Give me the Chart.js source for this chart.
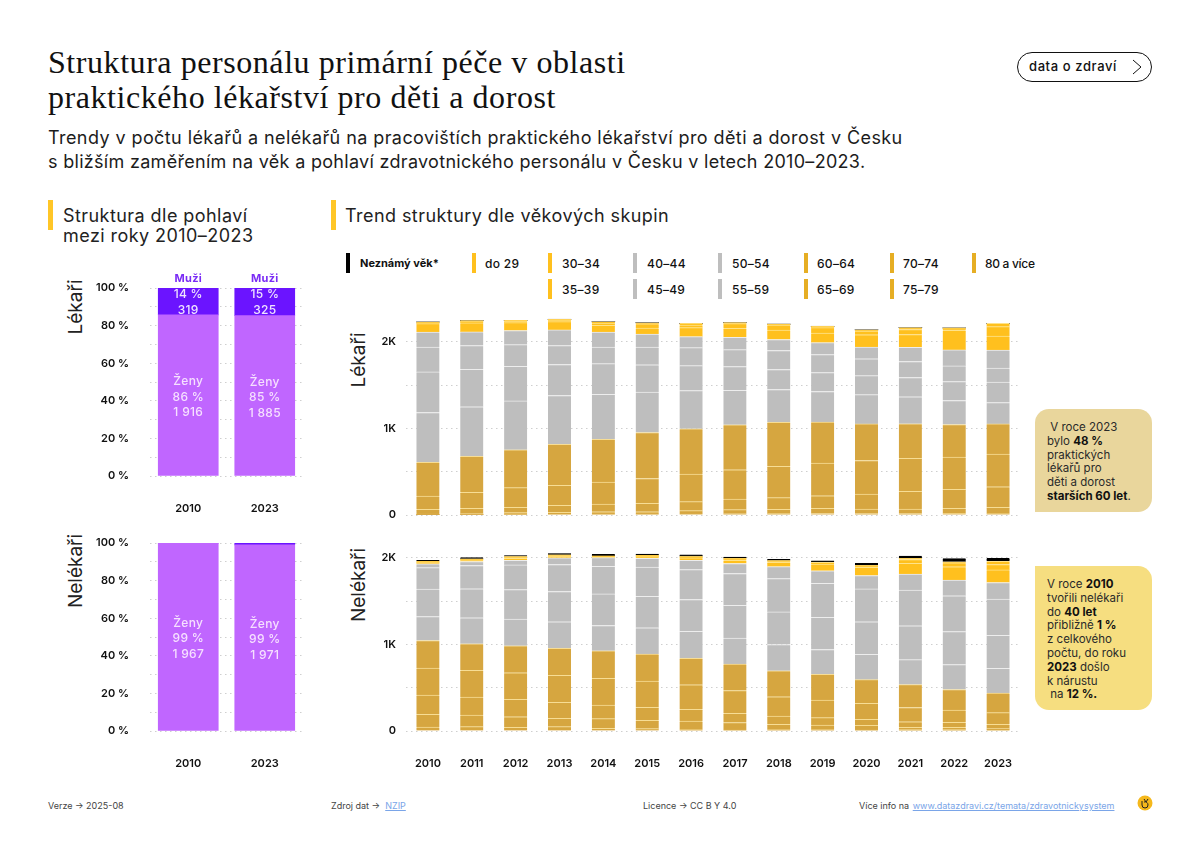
<!DOCTYPE html>
<html lang="cs">
<head>
<meta charset="utf-8">
<title>Struktura personálu primární péče</title>
<script src="https://cdn.jsdelivr.net/npm/chart.js@4"></script>
<style>
  html, body { margin: 0; background: #fff; }
  body { width: 1200px; height: 848px; position: relative; overflow: hidden; font-family: Inter, sans-serif; color: #111; }
  .t { position: absolute; white-space: nowrap; line-height: 1; }
  canvas { position: absolute; }
  .title { font-family: "Liberation Serif", serif; font-size: 32px; left: 48px; letter-spacing: .56px; }
  .sub { font-size: 18px; left: 48px; color: #1c1c1c; letter-spacing: .42px; }
  .head { font-size: 18px; color: #222; letter-spacing: .44px; }
  .mark { position: absolute; width: 5px; height: 30px; top: 200px; background: #FFC627; }
  .ytitle { position: absolute; font-size: 19px; transform: translate(-50%, -50%) rotate(-90deg); white-space: nowrap; color: #222; }
  .lg-bar { position: absolute; width: 4px; height: 20px; }
  .lg-txt { position: absolute; font-size: 12px; font-weight: 500; line-height: 1; white-space: nowrap; letter-spacing: .3px; }
  .box { position: absolute; left: 1035px; width: 117px; box-sizing: border-box; padding-left: 12px; font-size: 11.5px; line-height: 13.8px; color: #2a2a2a; }
  .box b { font-weight: 700; color: #111; }
  .foot { position: absolute; top: 801px; font-size: 9px; line-height: 1; color: #444; white-space: nowrap; }
  .foot a { color: #7aa5e8; text-decoration: underline; }
  .pill { position: absolute; left: 1017px; top: 52px; width: 133px; height: 28px; border: 1px solid #111; border-radius: 15px; }
</style>
</head>
<body>
<div class="t title" style="top:46px">Struktura personálu primární péče v oblasti</div>
<div class="t title" style="top:81px">praktického lékařství pro děti a dorost</div>
<div class="t sub" style="top:129px">Trendy v počtu lékařů a nelékařů na pracovištích praktického lékařství pro děti a dorost v Česku</div>
<div class="t sub" style="top:153px;letter-spacing:.3px">s bližším zaměřením na věk a pohlaví zdravotnického personálu v Česku v letech 2010–2023.</div>

<div class="pill"></div>
<div class="t" style="left:1029px;top:60px;font-size:13px;font-weight:500;letter-spacing:.6px">data o zdraví</div>
<svg style="position:absolute;left:1131px;top:59px" width="12" height="16"><polyline points="2,1 10,8 2,15" fill="none" stroke="#111" stroke-width="1"/></svg>

<div class="mark" style="left:48px"></div>
<div class="t head" style="left:63px;top:207px">Struktura dle pohlaví</div>
<div class="t head" style="left:63px;top:227px">mezi roky 2010–2023</div>
<div class="mark" style="left:331px"></div>
<div class="t head" style="left:345px;top:207px">Trend struktury dle věkových skupin</div>

<div class="ytitle" style="left:75px;top:307px">Lékaři</div>
<div class="ytitle" style="left:75px;top:571px">Nelékaři</div>
<div class="ytitle" style="left:358px;top:360px">Lékaři</div>
<div class="ytitle" style="left:358px;top:585px">Nelékaři</div>

<div id="legend"></div>

<canvas id="pohlaviLekari" width="230" height="263" style="left:80px;top:262px"></canvas>
<canvas id="pohlaviNelekari" width="230" height="250" style="left:80px;top:530px"></canvas>
<canvas id="vekLekari" width="690" height="225" style="left:340px;top:300px"></canvas>
<canvas id="vekNelekari" width="690" height="250" style="left:340px;top:530px"></canvas>

<div class="box" style="top:409px;height:103px;padding-top:12px;background:#E9D69C;border-radius:14px 14px 14px 0">&nbsp;V roce 2023<br>bylo <b>48 %</b><br>praktických<br>lékařů pro<br>děti a dorost<br><b>starších 60 let</b>.</div>
<div class="box" style="top:566px;height:144px;padding-top:12px;background:#F6DE80;border-radius:0 14px 14px 14px">V roce <b>2010</b><br>tvořili nelékaři<br>do <b>40 let</b><br>přibližně <b>1 %</b><br>z celkového<br>počtu, do roku<br><b>2023</b> došlo<br>k nárustu<br>&nbsp;na <b>12 %.</b></div>

<div class="foot" style="left:48px">Verze → 2025-08</div>
<div class="foot" style="left:331px">Zdroj dat → &nbsp;<a>NZIP</a></div>
<div class="foot" style="left:643px">Licence → CC B Y 4.0</div>
<div class="foot" style="left:859px">Více info na <a style="margin-left:1px">www.datazdravi.cz/temata/zdravotnickysystem</a></div>
<svg style="position:absolute;left:1137px;top:795px" width="16" height="16"><circle cx="8" cy="8" r="7.5" fill="#F5B81C"/><path d="M5 6 v4 a3 3 0 0 0 6 0 a3 3 0 0 0 -4 -3 M7 4 l2 3 2-3" fill="none" stroke="#222" stroke-width="1"/></svg>

<script>
const roky = ['2010','2011','2012','2013','2014','2015','2016','2017','2018','2019','2020','2021','2022','2023'];
const rokyPohlavi = ['2010','2023'];
const tickyVekHodnoty = [0,500,1000,1500,2000];
const tickyVek = ['0','','1K','','2K'];
const tickyProcentaHodnoty = [0,10,20,30,40,50,60,70,80,90,100];
const tickyProcenta = ['0 %','','20 %','','40 %','','60 %','','80 %','','100 %'];

// lekari, vekove skupiny
const lek80 = [4,5,8,9,10,10,12,14,15,17,16,16,18,19];
const lek75 = [8,10,19,22,28,28,38,48,50,60,53,53,59,69];
const lek70 = [54,62,62,81,88,96,104,123,135,146,173,204,219,238];
const lek65 = [154,185,227,231,254,288,319,338,362,377,388,381,373,377];
const lek60 = [388,415,438,473,496,531,523,519,508,473,423,400,377,350];
const lek55 = [577,573,565,565,519,469,442,400,381,354,338,312,277,246];
const lek50 = [469,435,400,358,354,315,288,273,231,219,219,223,219,238];
const lek45 = [288,273,250,219,192,204,208,196,219,208,196,185,181,162];
const lek40 = [173,158,162,181,173,150,127,142,127,138,135,165,185,208];
const lek35 = [96,104,92,96,77,69,104,104,108,112,142,146,227,162];
const lek30 = [8,15,15,15,27,50,31,54,58,62,42,58,15,108];
const lek29 = [12,12,12,12,15,12,19,12,12,15,15,23,12,38];
const lekNezn = [0,0,0,0,0,0,0,0,0,0,0,0,0,0];

// nelekari, vekove skupiny
const nel80 = [46,50,42,50,31,27,19,12,19,19,12,15,15,12];
const nel75 = [146,135,123,96,112,96,96,85,58,50,54,27,27,15];
const nel70 = [223,208,200,185,158,150,135,108,96,85,69,65,58,50];
const nel65 = [312,308,308,312,308,304,285,262,223,204,185,165,142,135];
const nel60 = [319,308,312,312,319,312,304,308,300,296,273,265,238,227];
const nel55 = [277,300,308,308,292,304,312,300,304,288,292,288,288,285];
const nel50 = [319,335,342,350,365,365,369,377,377,373,377,392,381,381];
const nel45 = [246,269,285,312,319,338,346,369,385,392,381,412,415,419];
const nel40 = [46,46,54,77,100,100,108,115,138,146,154,185,181,192];
const nel35 = [12,15,23,19,8,19,27,38,50,77,96,123,154,146];
const nel30 = [8,8,12,8,8,8,12,15,12,19,15,46,46,62];
const nel29 = [8,8,8,8,4,8,8,8,8,4,8,12,12,38];
const nelNezn = [12,15,12,15,19,15,15,15,15,15,23,27,35,35];

// pohlavi, podil v %
const lekZeny = [85.7,85.3];
const lekMuzi = [14.3,14.7];
const nelZeny = [99.9,99.0];
const nelMuzi = [0.1,1.0];
const lekZenyPopisky = [['Ženy','86 %','1 916'],['Ženy','85 %','1 885']];
const lekMuziPopisky = [['14 %','319'],['15 %','325']];
const nelZenyPopisky = [['Ženy','99 %','1 967'],['Ženy','99 %','1 971']];

const skupiny = ['80 a více','75–79','70–74','65–69','60–64','55–59','50–54','45–49','40–44','35–39','30–34','do 29','Neznámý věk*'];
const lekRady = [lek80,lek75,lek70,lek65,lek60,lek55,lek50,lek45,lek40,lek35,lek30,lek29,lekNezn];
const nelRady = [nel80,nel75,nel70,nel65,nel60,nel55,nel50,nel45,nel40,nel35,nel30,nel29,nelNezn];

const barvaSkupiny = i => i < 5 ? '#D6A640' : i < 9 ? '#BEBEBE' : i < 12 ? '#FFC01E' : '#000000';
const linkaSkupiny = i => i < 5 ? '#F7DD94' : i < 9 ? '#EDEDED' : i < 12 ? '#FFE38A' : '#000000';
const barvaLegendy = i => i < 5 ? '#E6AE24' : i < 9 ? '#BEBEBE' : i < 12 ? '#FFC01E' : '#000000';

// legenda
const legendaPozice = [
  ['Neznámý věk*',346,360,0],['do 29',472,485,0],['30–34',548,562,0],['35–39',548,562,1],
  ['40–44',633,647,0],['45–49',633,647,1],['50–54',718,732,0],['55–59',718,732,1],
  ['60–64',804,817,0],['65–69',804,817,1],['70–74',890,903,0],['75–79',890,903,1],['80 a více',972,985,0]
];
const legenda = document.getElementById('legend');
legendaPozice.forEach(([nazev, xBar, xTxt, radek]) => {
  const top = 253 + radek * 26;
  const i = skupiny.indexOf(nazev);
  legenda.insertAdjacentHTML('beforeend',
    `<div class="lg-bar" style="left:${xBar}px;top:${top}px;background:${barvaLegendy(i)}"></div>` +
    `<div class="lg-txt" style="left:${xTxt}px;top:${top + 5}px;${i === 12 ? 'font-weight:700;font-size:11px;letter-spacing:0' : i === 0 ? 'letter-spacing:-.3px' : ''}">${nazev}</div>`);
});

const tickFont = { family: 'Inter', size: 11, weight: '600' };
const osaX = (zobrazit, padding) => ({
  stacked: true,
  display: zobrazit,
  grid: { display: false, drawTicks: false },
  border: { display: false },
  ticks: { color: '#111', font: tickFont, padding: padding, maxRotation: 0 },
  afterFit: s => { s.height = zobrazit ? 49 : 0; s.paddingLeft = 0; s.paddingRight = 0; }
});
const osaY = (max, hodnoty, sirka, popisky, padding) => ({
  stacked: true,
  min: 0,
  max: max,
  grid: { color: '#CFCFCF', lineWidth: 1, drawTicks: false },
  border: { display: false, dash: [1.5, 3.5] },
  ticks: { autoSkip: false, color: '#111', font: tickFont, padding: padding, callback: (v, i) => popisky[i] },
  // horni mez neni nasobek kroku, ticky si dame sami
  afterBuildTicks: s => { s.ticks = hodnoty.map(value => ({ value })); },
  afterFit: s => { s.width = sirka; s.paddingTop = 0; s.paddingBottom = 0; }
});

function grafVek(id, rady, maxY, horniOkraj, dolniOkraj, zobrazitRoky) {
  new Chart(document.getElementById(id), {
    type: 'bar',
    data: {
      labels: roky,
      datasets: rady.map((r, i) => ({
        label: skupiny[i],
        data: r,
        backgroundColor: barvaSkupiny(i),
        borderColor: linkaSkupiny(i),
        borderWidth: { top: 1, bottom: 0, left: 0, right: 0 },
        barThickness: 23
      }))
    },
    options: {
      responsive: false,
      animation: false,
      layout: { padding: { top: horniOkraj, bottom: dolniOkraj, left: 0, right: 10 } },
      plugins: { legend: { display: false }, tooltip: { enabled: false } },
      scales: { x: osaX(zobrazitRoky, 26), y: osaY(maxY, tickyVekHodnoty, 66, tickyVek, 10) }
    }
  });
}

// texty uvnitr sloupcu pohlavi
const popiskyPlugin = {
  id: 'popisky',
  afterDatasetsDraw(chart, args, opts) {
    const ctx = chart.ctx;
    ctx.save();
    ctx.textAlign = 'center';
    ctx.textBaseline = 'middle';
    ctx.font = '500 12px Inter';
    ctx.letterSpacing = '0.3px';
    chart.getDatasetMeta(0).data.forEach((bar, j) => {
      const stred = (bar.y + bar.base) / 2 + 2;
      ctx.fillStyle = '#F6E0FF';
      opts.zeny[j].forEach((t, k) => ctx.fillText(t, bar.x, stred + (k - 1) * 15.5));
    });
    if (opts.muzi) {
      chart.getDatasetMeta(1).data.forEach((bar, j) => {
        const stred = (bar.y + bar.base) / 2 + 1;
        ctx.fillStyle = '#EFE3FF';
        opts.muzi[j].forEach((t, k) => ctx.fillText(t, bar.x, stred + (k - 0.5) * 16));
        ctx.fillStyle = '#7A2BF5';
        ctx.font = '700 11px Inter';
        ctx.fillText('Muži', bar.x, bar.y - 9);
        ctx.font = '500 12px Inter';
      });
    }
    ctx.restore();
  }
};

function grafPohlavi(id, zeny, muzi, zenyPopisky, muziPopisky, horniOkraj) {
  new Chart(document.getElementById(id), {
    type: 'bar',
    data: {
      labels: rokyPohlavi,
      datasets: [
        { label: 'Ženy', data: zeny, backgroundColor: '#C066FF', barThickness: 60 },
        { label: 'Muži', data: muzi, backgroundColor: '#6B14FF', barThickness: 60 }
      ]
    },
    options: {
      responsive: false,
      animation: false,
      layout: { padding: { top: horniOkraj, bottom: 0, left: 0, right: 7 } },
      plugins: {
        legend: { display: false },
        tooltip: { enabled: false },
        popisky: { zeny: zenyPopisky, muzi: muziPopisky }
      },
      scales: { x: osaX(true, 26), y: osaY(100, tickyProcentaHodnoty, 70, tickyProcenta, 21) }
    },
    plugins: [popiskyPlugin]
  });
}

grafPohlavi('pohlaviLekari', lekZeny, lekMuzi, lekZenyPopisky, lekMuziPopisky, 26);
grafPohlavi('pohlaviNelekari', nelZeny, nelMuzi, nelZenyPopisky, null, 13);
grafVek('vekLekari', lekRady, 2300, 16, 10, false);
grafVek('vekNelekari', nelRady, 2104, 19, 0, true);
</script>
</body>
</html>
